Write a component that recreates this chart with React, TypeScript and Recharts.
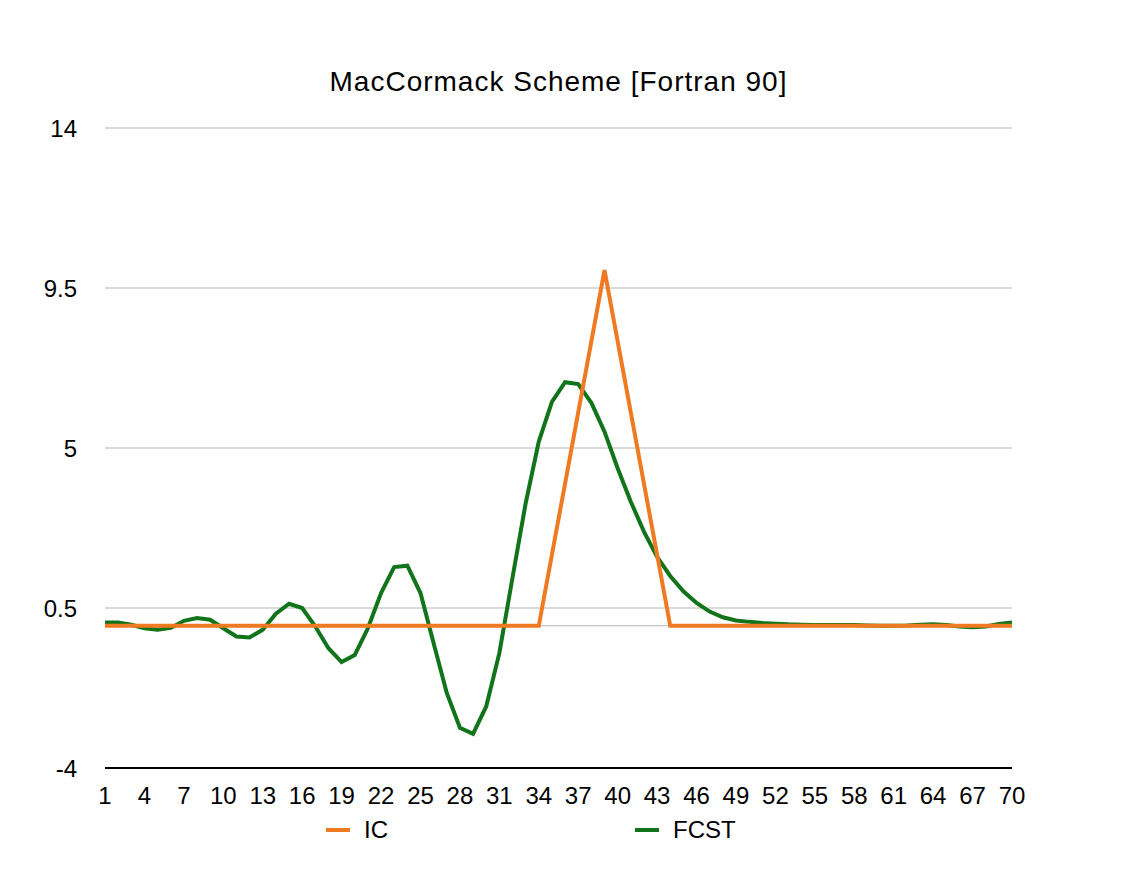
import {
  CartesianGrid,
  Legend,
  Line,
  LineChart,
  ReferenceLine,
  XAxis,
  YAxis,
} from 'recharts';

const steps: number[] = Array.from({ length: 70 }, (_, i) => i + 1);

// initial condition: triangular pulse between points 34 and 44
const icValues = [
  0, 0, 0, 0, 0, 0, 0, 0, 0, 0,
  0, 0, 0, 0, 0, 0, 0, 0, 0, 0,
  0, 0, 0, 0, 0, 0, 0, 0, 0, 0,
  0, 0, 0, 0, 2, 4, 6, 8, 10, 8,
  6, 4, 2, 0, 0, 0, 0, 0, 0, 0,
  0, 0, 0, 0, 0, 0, 0, 0, 0, 0,
  0, 0, 0, 0, 0, 0, 0, 0, 0, 0,
];

const fcstValues = [
  0.09, 0.09, 0.03, -0.07, -0.11, -0.06, 0.14, 0.22, 0.17, -0.07,
  -0.3, -0.33, -0.11, 0.34, 0.62, 0.5, -0.02, -0.63, -1.02, -0.82,
  -0.07, 0.92, 1.65, 1.69, 0.92, -0.49, -1.89, -2.87, -3.04, -2.27,
  -0.77, 1.35, 3.44, 5.18, 6.3, 6.85, 6.8, 6.27, 5.46, 4.43,
  3.49, 2.65, 1.94, 1.4, 0.97, 0.64, 0.4, 0.24, 0.15, 0.11,
  0.08, 0.06, 0.04, 0.03, 0.02, 0.02, 0.02, 0.02, 0.01, 0,
  0, 0.01, 0.03, 0.04, 0.02, -0.02, -0.04, -0.02, 0.05, 0.09,
];

const xTicks = [1, 4, 7, 10, 13, 16, 19, 22, 25, 28, 31, 34, 37, 40, 43, 46, 49, 52, 55, 58, 61, 64, 67, 70];
const yTicks = [-4, 0.5, 5, 9.5, 14];

const IC_COLOR = '#f07a22';
const FCST_COLOR = '#11741a';
const FONT = '"Liberation Sans", Arial, Helvetica, sans-serif';

const data = steps.map((x, i) => ({ x, IC: icValues[i], FCST: fcstValues[i] }));

const legendItems = [
  { name: 'IC', color: IC_COLOR, left: 326 },
  { name: 'FCST', color: FCST_COLOR, left: 635 },
];

const renderLegend = () => (
  <div style={{ position: 'relative', width: 1124, height: 30, fontFamily: FONT }}>
    {legendItems.map((item) => (
      <div
        key={item.name}
        style={{
          position: 'absolute',
          left: item.left,
          top: 0,
          display: 'flex',
          alignItems: 'center',
          height: 30,
        }}
      >
        <span style={{ display: 'inline-block', width: 24, height: 4, background: item.color }} />
        <span style={{ marginLeft: 14, fontSize: 24, color: '#000' }}>{item.name}</span>
      </div>
    ))}
  </div>
);

export default function App() {
  return (
    <div style={{ position: 'absolute', left: 0, top: 0, width: 1124, height: 886, background: '#fff' }}>
      <div
        style={{
          position: 'absolute',
          left: 105,
          width: 907,
          top: 66,
          textAlign: 'center',
          fontFamily: FONT,
          fontSize: 28,
          letterSpacing: 1,
          color: '#000',
        }}
      >
        MacCormack Scheme [Fortran 90]
      </div>
      <LineChart
        width={1124}
        height={886}
        data={data}
        margin={{ top: 128, right: 112, bottom: 88, left: 0 }}
      >
        <CartesianGrid stroke="#b5b5b5" vertical={false} />
        <XAxis
          dataKey="x"
          type="number"
          domain={[1, 70]}
          ticks={xTicks}
          interval={0}
          height={30}
          axisLine={{ stroke: '#000', strokeWidth: 2 }}
          tickLine={false}
          tickSize={0}
          tickMargin={19}
          tick={{ fill: '#000', fontSize: 24, fontFamily: FONT }}
        />
        <YAxis
          type="number"
          domain={[-4, 14]}
          ticks={yTicks}
          interval={0}
          width={105}
          axisLine={false}
          tickLine={false}
          tickSize={0}
          tickMargin={28}
          tick={{ fill: '#000', fontSize: 24, fontFamily: FONT }}
        />
        <ReferenceLine y={0} stroke="#b5b5b5" />
        <Legend
          layout="horizontal"
          verticalAlign="middle"
          align="center"
          content={renderLegend}
          wrapperStyle={{ position: 'absolute', top: 815, left: 0, width: 1124 }}
        />
        <Line
          type="linear"
          dataKey="FCST"
          stroke={FCST_COLOR}
          strokeWidth={4}
          dot={false}
          activeDot={false}
          isAnimationActive={false}
        />
        <Line
          type="linear"
          dataKey="IC"
          stroke={IC_COLOR}
          strokeWidth={4}
          dot={false}
          activeDot={false}
          isAnimationActive={false}
        />
      </LineChart>
    </div>
  );
}
